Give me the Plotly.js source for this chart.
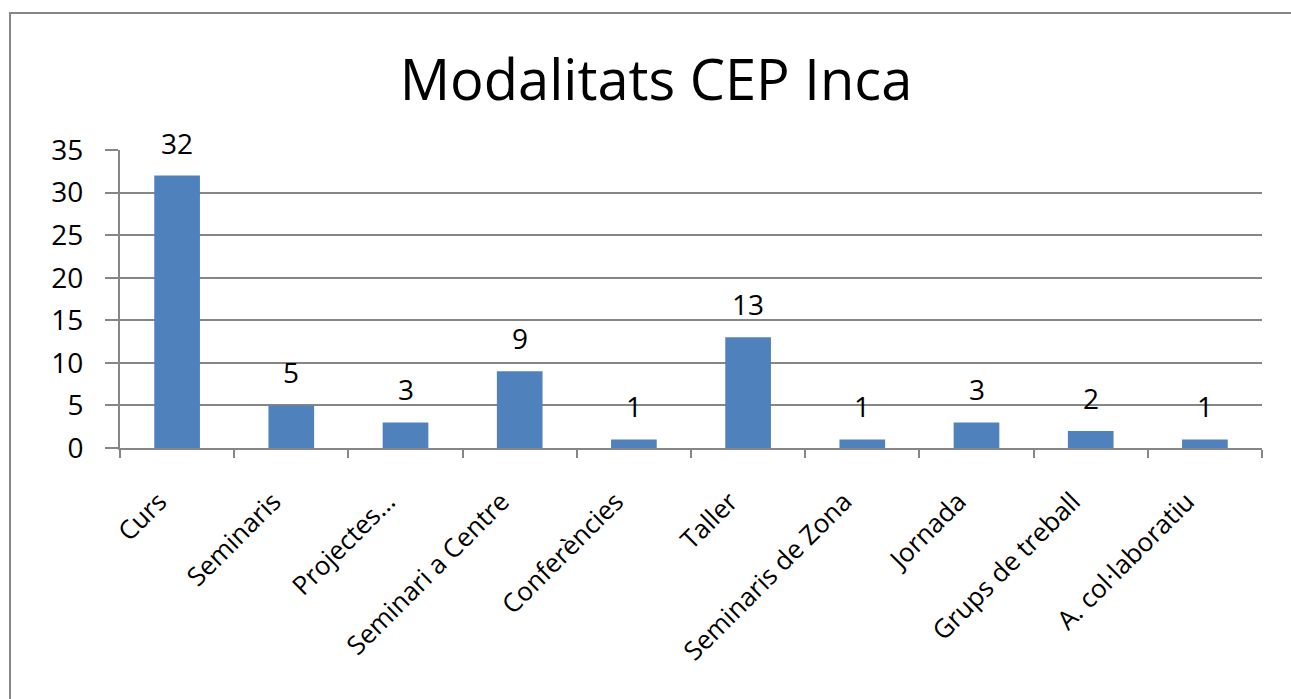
<!DOCTYPE html>
<html>
<head>
<meta charset="utf-8">
<script src="https://cdn.plot.ly/plotly-3.0.1.min.js"></script>
<style>
html,body{margin:0;padding:0;background:#fff;}
#chart{width:1291px;height:699px;}
</style>
</head>
<body>
<div id="chart"></div>
<script>
const categories = ["Curs","Seminaris","Projectes…","Seminari a Centre","Conferències","Taller","Seminaris de Zona","Jornada","Grups de treball","A. col·laboratiu"];
const values = [32,5,3,9,1,13,1,3,2,1];
const yTicks = [0,5,10,15,20,25,30,35];
const chartTitle = "Modalitats CEP Inca";

const FONT = "Open Sans, Noto Sans, sans-serif";
const GREY = "#868686";
const W = 1291, H = 699;
const M = {l:120, r:29, t:150, b:251};
const pw = W - M.l - M.r, ph = H - M.t - M.b;

const trace = {
  type: "bar",
  x: categories,
  y: values,
  marker: {color: "#4F81BD"},
  hoverinfo: "x+y"
};

const annotations = categories.map((c, i) => ({
  x: c, y: values[i], xref: "x", yref: "y",
  text: String(values[i]), showarrow: false,
  yanchor: "bottom", yshift: 12,
  font: {family: FONT, size: 28, color: "#000"}
}));

const layout = {
  width: W, height: H,
  margin: M,
  paper_bgcolor: "#fff", plot_bgcolor: "#fff",
  showlegend: false,
  bargap: 0.6,
  title: {
    text: chartTitle,
    font: {family: FONT, size: 56, color: "#000"},
    x: 656 / W, xref: "container", xanchor: "center",
    y: 1 - 80 / H, yref: "container", yanchor: "middle"
  },
  xaxis: {
    type: "category",
    tickangle: -45,
    tickson: "boundaries",
    ticks: "outside", ticklen: 8, tickwidth: 2, tickcolor: GREY,
    showline: true, linecolor: GREY, linewidth: 2,
    showgrid: false,
    ticklabelstandoff: 26,
    ticklabelshift: -18,
    tickfont: {family: FONT, size: 26, color: "#000"}
  },
  yaxis: {
    range: [0, 35],
    tickvals: yTicks,
    ticks: "outside", ticklen: 13, tickwidth: 2, tickcolor: GREY,
    showline: true, linecolor: GREY, linewidth: 2,
    showgrid: true, gridcolor: GREY, gridwidth: 2,
    zeroline: false,
    ticklabelstandoff: 16,
    tickfont: {family: FONT, size: 28, color: "#000"}
  },
  annotations: annotations,
  shapes: [{
    type: "rect", xref: "paper", yref: "paper",
    x0: (10 - M.l) / pw, x1: (W + 20 - M.l) / pw,
    y0: (H - M.b - (H + 20)) / ph, y1: (H - M.b - 13) / ph,
    line: {color: GREY, width: 2}, fillcolor: "rgba(0,0,0,0)", layer: "below"
  }]
};

Plotly.newPlot("chart", [trace], layout, {displayModeBar: false, staticPlot: true});
</script>
</body>
</html>
